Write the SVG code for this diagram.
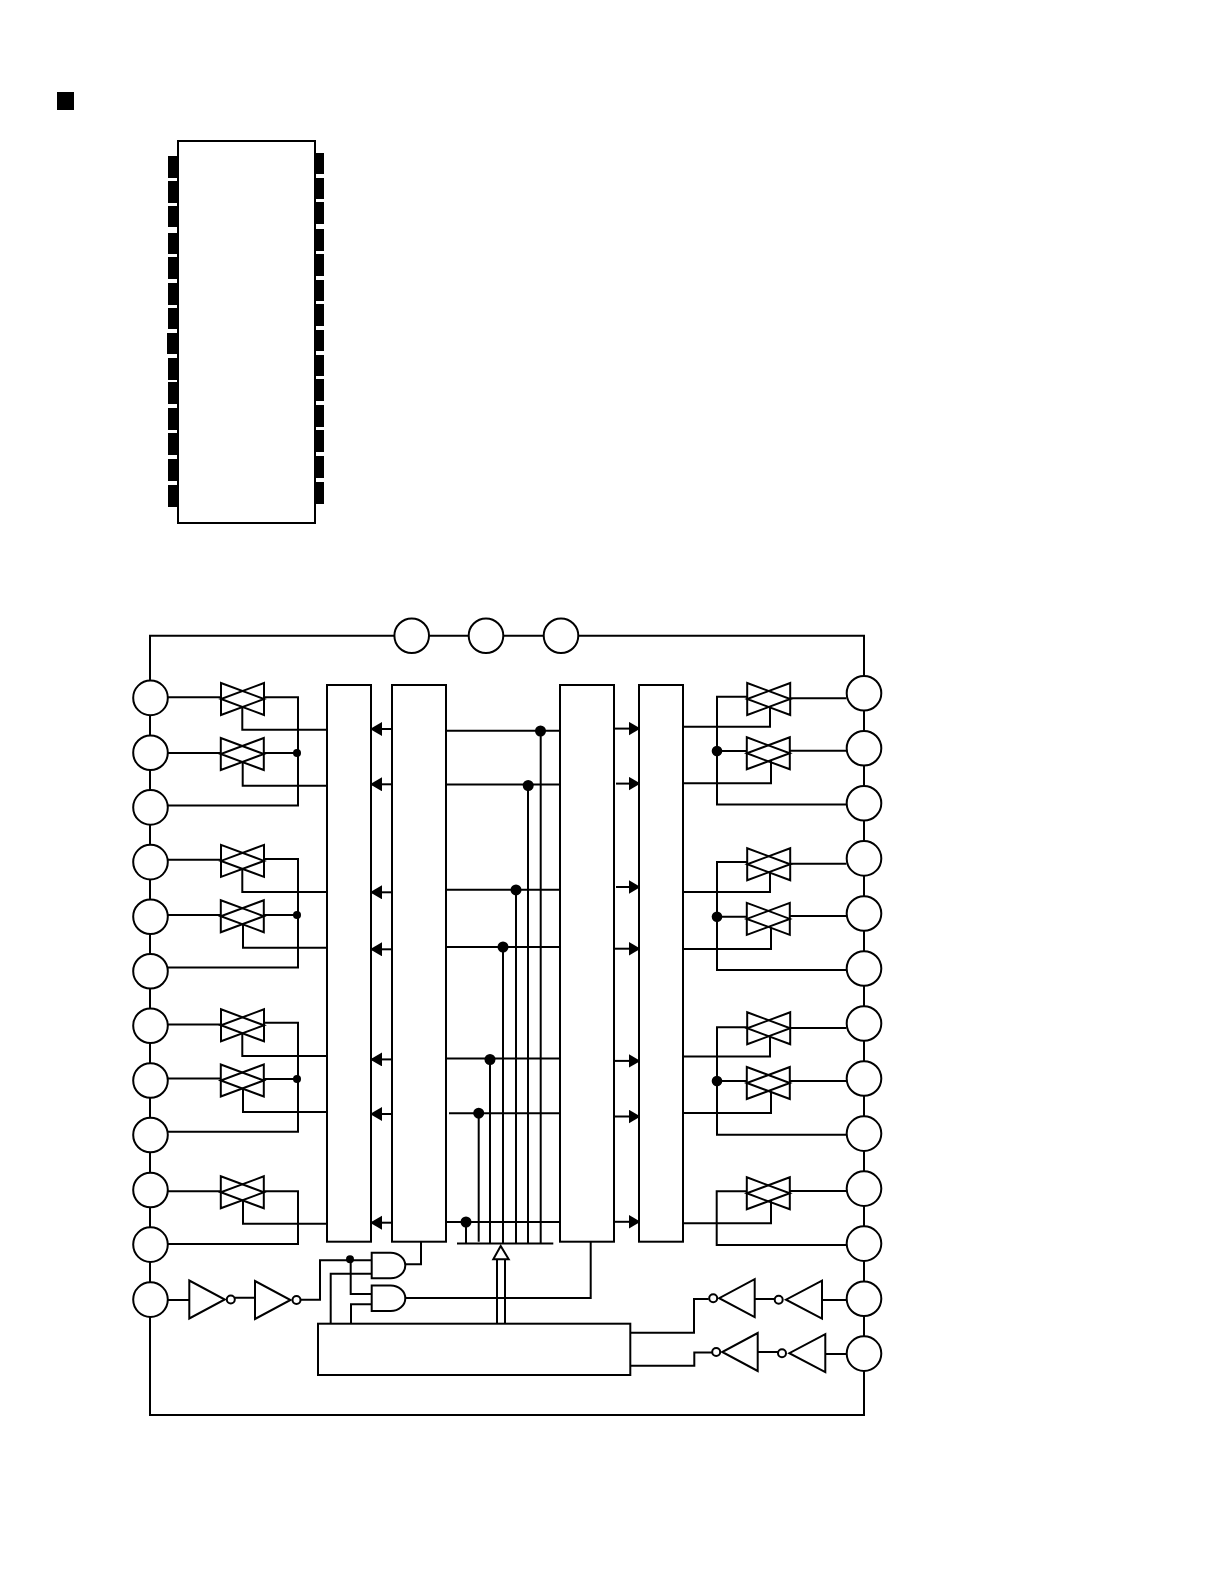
<svg xmlns="http://www.w3.org/2000/svg" xmlns:xlink="http://www.w3.org/1999/xlink" width="1224" height="1584" viewBox="0 0 1224 1584">
<style>
.n{fill:#fff;stroke:#000;stroke-width:2}
.g{fill:none;stroke:#000;stroke-width:2}
.w{fill:none;stroke:#000;stroke-width:2}
.k{fill:#000;stroke:none}
</style>
<defs>
<g id="tg"><polygon class="g" points="-21.5,-16 -21.5,16 21.5,0"/><polygon class="g" points="21.5,-16 21.5,16 -21.5,0"/></g>
<g id="inv"><polygon class="g" points="0,-19 0,19 35.5,0"/><circle class="n" cx="41.5" cy="0" r="4"/></g>
<g id="invb"><polygon class="g" points="0,-19 0,19 36,0"/><circle class="n" cx="43.3" cy="0" r="4"/></g>
<path id="and" class="n" d="M0,-12.8H19A14.6,12.8 0 0 1 19,12.8H0Z"/>
<marker id="af" markerUnits="userSpaceOnUse" markerWidth="12" markerHeight="15" refX="12" refY="7" orient="auto"><path d="M0,0L12,7L0,14Z" fill="#000"/></marker>
<circle id="pin" class="n" r="17.3"/>
</defs>
<rect id="title-mark" class="k" x="57" y="92" width="17" height="18"/>
<g id="package">
<rect class="k" x="168" y="156" width="11" height="22"/><rect class="k" x="168" y="181" width="11" height="22"/><rect class="k" x="168" y="206" width="11" height="21"/><rect class="k" x="168" y="233" width="11" height="21"/><rect class="k" x="168" y="257" width="11" height="22"/><rect class="k" x="168" y="283" width="11" height="22"/><rect class="k" x="168" y="308" width="11" height="21"/><rect class="k" x="167" y="333" width="12" height="21"/><rect class="k" x="168" y="358" width="11" height="22"/><rect class="k" x="168" y="382" width="11" height="22"/><rect class="k" x="168" y="408" width="11" height="22"/><rect class="k" x="168" y="433" width="11" height="22"/><rect class="k" x="168" y="459" width="11" height="22"/><rect class="k" x="168" y="485" width="11" height="22"/>
<rect class="k" x="314" y="153" width="10" height="21"/><rect class="k" x="314" y="178" width="10" height="21"/><rect class="k" x="314" y="202" width="10" height="22"/><rect class="k" x="314" y="229" width="10" height="22"/><rect class="k" x="314" y="254" width="10" height="22"/><rect class="k" x="314" y="280" width="10" height="21"/><rect class="k" x="314" y="304" width="10" height="22"/><rect class="k" x="314" y="330" width="10" height="21"/><rect class="k" x="314" y="355" width="10" height="21"/><rect class="k" x="314" y="379" width="10" height="22"/><rect class="k" x="314" y="405" width="10" height="22"/><rect class="k" x="314" y="430" width="10" height="22"/><rect class="k" x="314" y="456" width="10" height="22"/><rect class="k" x="314" y="482" width="10" height="22"/>
<rect class="n" x="178" y="141" width="137" height="382"/>
</g>
<g id="connectors">
<path class="w" d="M150,697.7V635.7H864V1415H150V697"/>
<!-- left wires -->
<path class="w" d="M167,697.3H221M264,697.3H298V805.5H167M167,753H221M264,753H297M242.3,706V729.7H327M242.7,762V785.7H327"/>
<path class="w" d="M167,859.8H221M264,859H298V967.5H167M167,915H221M264,915H297M242.3,868V892H327M243,924V947.7H327"/>
<path class="w" d="M167,1024.5H221M264,1022.7H298V1131.7H167M167,1078.5H221M264,1079H297M242.3,1033V1056H327M243,1088V1112H327"/>
<path class="w" d="M167,1191.3H221M264,1191.3H298V1244H167M243,1200V1223.7H327"/>
<!-- arrows between blocks -->
<path class="w" marker-end="url(#af)" d="M392,729H370"/><path class="w" marker-end="url(#af)" d="M392,784.3H370"/><path class="w" marker-end="url(#af)" d="M392,892.3H370"/><path class="w" marker-end="url(#af)" d="M392,949.3H370"/><path class="w" marker-end="url(#af)" d="M392,1059.4H370"/><path class="w" marker-end="url(#af)" d="M392,1114H370"/><path class="w" marker-end="url(#af)" d="M392,1222.7H370"/>
<path class="w" marker-end="url(#af)" d="M614,728.6H640.5"/><path class="w" marker-end="url(#af)" d="M616,783.6H640.5"/><path class="w" marker-end="url(#af)" d="M616,887H640.5"/><path class="w" marker-end="url(#af)" d="M614,948.7H640.5"/><path class="w" marker-end="url(#af)" d="M614,1060.9H640.5"/><path class="w" marker-end="url(#af)" d="M614,1116.5H640.5"/><path class="w" marker-end="url(#af)" d="M614,1221.8H640.5"/>
<!-- central bus -->
<path class="w" d="M445,730.8H560M445,784.6H560M445,889.7H560M445,947H560M445,1058.6H560M449,1113.3H560M445,1222H560"/>
<path class="w" d="M540.7,731V1243M528,785V1243M516,889.7V1243M503,947V1243M490,1059V1243M478.7,1113V1241.7M466,1222V1243M457,1243.5H553.3"/>
<path class="w" d="M497,1259V1323.7M505,1259V1323.7"/>
<!-- right wires -->
<path class="w" d="M790,698.3H846.5M747,696.7H717V804.6H846.5M717,751H747M790,750.7H846.5M770,706V726.7H683M771,761V783.3H683"/>
<path class="w" d="M790,863.7H846.5M747,862H717V970H846.5M717,916.7H747M790,916H846.5M770,872V892H683M771,927V949H683"/>
<path class="w" d="M790,1028H846.5M747,1027.3H717V1134.7H846.5M717,1081H747M790,1081H846.5M770,1036V1056.4H683M771,1091V1113H683"/>
<path class="w" d="M790,1191H846.5M747,1191.3H716.7V1245H846.5M771,1201V1223.3H683"/>
<!-- lower logic -->
<path class="w" d="M167,1300H189.3M235,1297.7H255M300.5,1299.7H320V1260.3H371.7M350.7,1259V1294H371.7M330.7,1323.7V1273.7H371.7M351,1323.7V1304.3H371.7"/>
<path class="w" d="M405,1264.3H421V1241.7M405,1298H590.7V1241.7"/>
<path class="w" d="M708.7,1299H694V1332.7H630M754.7,1299H774.7M822,1300H846.5M712,1352.5H694.3V1365.7H630M757.7,1352H778M825.3,1354H846.5"/>
</g>
<g id="dots">
<circle class="k" cx="297" cy="753" r="4"/><circle class="k" cx="297" cy="915" r="4"/><circle class="k" cx="297" cy="1079" r="4"/><circle class="k" cx="350" cy="1259.3" r="4"/>
<circle class="k" cx="717" cy="751" r="5.3"/><circle class="k" cx="717" cy="916.7" r="5.3"/><circle class="k" cx="717" cy="1081" r="5.3"/>
<circle class="k" cx="540.5" cy="731" r="5.5"/><circle class="k" cx="528.2" cy="785.5" r="5.5"/><circle class="k" cx="516" cy="889.9" r="5.5"/><circle class="k" cx="503" cy="947" r="5.5"/><circle class="k" cx="490" cy="1059.5" r="5.5"/><circle class="k" cx="478.7" cy="1113.2" r="5.5"/><circle class="k" cx="466" cy="1222" r="5.5"/>
</g>
<g id="pin-top1"><use href="#pin" x="411.7" y="635.7"/></g>
<g id="pin-top2"><use href="#pin" x="486" y="635.7"/></g>
<g id="pin-top3"><use href="#pin" x="561" y="635.7"/></g>
<g id="pin-l1"><use href="#pin" x="150.5" y="697.9"/></g>
<g id="pin-l2"><use href="#pin" x="150.5" y="752.7"/></g>
<g id="pin-l3"><use href="#pin" x="150.5" y="807.4"/></g>
<g id="pin-l4"><use href="#pin" x="150.5" y="862.1"/></g>
<g id="pin-l5"><use href="#pin" x="150.5" y="916.7"/></g>
<g id="pin-l6"><use href="#pin" x="150.5" y="971.3"/></g>
<g id="pin-l7"><use href="#pin" x="150.5" y="1025.8"/></g>
<g id="pin-l8"><use href="#pin" x="150.5" y="1080.5"/></g>
<g id="pin-l9"><use href="#pin" x="150.5" y="1135"/></g>
<g id="pin-l10"><use href="#pin" x="150.5" y="1190"/></g>
<g id="pin-l11"><use href="#pin" x="150.5" y="1244.6"/></g>
<g id="pin-l12"><use href="#pin" x="150.5" y="1299.6"/></g>
<g id="pin-r1"><use href="#pin" x="864" y="693.2"/></g>
<g id="pin-r2"><use href="#pin" x="864" y="748.3"/></g>
<g id="pin-r3"><use href="#pin" x="864" y="803.3"/></g>
<g id="pin-r4"><use href="#pin" x="864" y="858.4"/></g>
<g id="pin-r5"><use href="#pin" x="864" y="913.5"/></g>
<g id="pin-r6"><use href="#pin" x="864" y="968.5"/></g>
<g id="pin-r7"><use href="#pin" x="864" y="1023.5"/></g>
<g id="pin-r8"><use href="#pin" x="864" y="1078.5"/></g>
<g id="pin-r9"><use href="#pin" x="864" y="1133.6"/></g>
<g id="pin-r10"><use href="#pin" x="864" y="1188.6"/></g>
<g id="pin-r11"><use href="#pin" x="864" y="1243.6"/></g>
<g id="pin-r12"><use href="#pin" x="864" y="1298.7"/></g>
<g id="pin-r13"><use href="#pin" x="864" y="1353.6"/></g>
<g id="tg-l1"><use href="#tg" x="242.5" y="699"/></g>
<g id="tg-l2"><use href="#tg" x="242.3" y="754"/></g>
<g id="tg-l3"><use href="#tg" x="242.5" y="860.9"/></g>
<g id="tg-l4"><use href="#tg" x="242.3" y="916.2"/></g>
<g id="tg-l5"><use href="#tg" x="242.5" y="1025.3"/></g>
<g id="tg-l6"><use href="#tg" x="242.3" y="1080.5"/></g>
<g id="tg-l7"><use href="#tg" x="242.3" y="1192.3"/></g>
<g id="tg-r1"><use href="#tg" x="768.7" y="699"/></g>
<g id="tg-r2"><use href="#tg" x="768.3" y="753.3"/></g>
<g id="tg-r3"><use href="#tg" x="768.7" y="864.2"/></g>
<g id="tg-r4"><use href="#tg" x="768.3" y="918.9"/></g>
<g id="tg-r5"><use href="#tg" x="768.7" y="1028.3"/></g>
<g id="tg-r6"><use href="#tg" x="768.3" y="1083"/></g>
<g id="tg-r7"><use href="#tg" x="768.3" y="1193.3"/></g>
<g id="block1"><rect class="n" x="327" y="685" width="44" height="556.7"/></g>
<g id="block2"><rect class="n" x="392" y="685" width="54" height="556.7"/></g>
<g id="block3"><rect class="n" x="560" y="685" width="54" height="556.7"/></g>
<g id="block4"><rect class="n" x="639" y="685" width="44" height="556.7"/></g>
<g id="block5"><rect class="n" x="318" y="1323.7" width="312.3" height="51.3"/></g>
<g id="bus-arrow"><polygon class="n" points="500.7,1246 493.3,1259.3 508.7,1259.3"/></g>
<g id="and1"><use href="#and" x="371.7" y="1265.5"/></g>
<g id="and2"><use href="#and" x="371.7" y="1298.3"/></g>
<g id="inv-l1"><use href="#inv" transform="translate(189.3,1299.5)"/></g>
<g id="inv-l2"><use href="#inv" transform="translate(255,1300)"/></g>
<g id="inv-r1"><use href="#inv" transform="translate(754.7,1298.2) scale(-1,1)"/></g>
<g id="inv-r2"><use href="#invb" transform="translate(822,1299.7) scale(-1,1)"/></g>
<g id="inv-r3"><use href="#inv" transform="translate(757.7,1352) scale(-1,1)"/></g>
<g id="inv-r4"><use href="#invb" transform="translate(825.3,1353.2) scale(-1,1)"/></g>
</svg>
